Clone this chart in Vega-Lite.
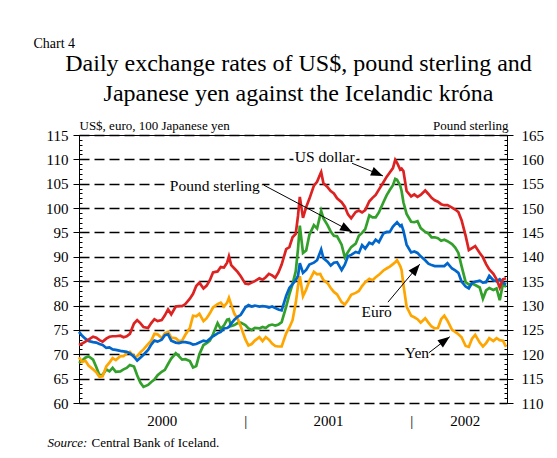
{
  "$schema": "https://vega.github.io/schema/vega-lite/v6.json",
  "width": 428,
  "height": 268,
  "autosize": {"type": "none"},
  "padding": {"left": 79, "top": 135, "right": 50, "bottom": 55},
  "background": "white",
  "config": {
    "font": "Liberation Serif",
    "view": {"stroke": null},
    "text": {"font": "Liberation Serif"},
    "axis": {"domainColor": "black", "tickColor": "black", "labelColor": "black", "titleColor": "black", "titleFontWeight": "normal", "labelFont": "Liberation Serif", "titleFont": "Liberation Serif", "grid": false, "labelFontSize": 15}
  },
  "datasets": {
    "rates": [
      {"d":"2000-01-01","usd":71.9,"gbp":118.2,"eur":74.6,"jpy":69.4},
      {"d":"2000-01-08","usd":72.2,"gbp":118.7,"eur":73.8,"jpy":68.4},
      {"d":"2000-01-15","usd":72.6,"gbp":119.3,"eur":73.2,"jpy":68.7},
      {"d":"2000-01-22","usd":73.0,"gbp":119.6,"eur":72.7,"jpy":67.7},
      {"d":"2000-02-01","usd":73.6,"gbp":118.9,"eur":72.5,"jpy":66.9},
      {"d":"2000-02-08","usd":73.4,"gbp":117.4,"eur":72.4,"jpy":66.3},
      {"d":"2000-02-15","usd":72.9,"gbp":115.7,"eur":72.1,"jpy":65.4},
      {"d":"2000-02-22","usd":72.6,"gbp":115.8,"eur":71.9,"jpy":65.5},
      {"d":"2000-03-01","usd":73.2,"gbp":116.9,"eur":71.3,"jpy":67.5},
      {"d":"2000-03-08","usd":73.6,"gbp":116.5,"eur":71.4,"jpy":68.3},
      {"d":"2000-03-15","usd":73.7,"gbp":117.2,"eur":71.0,"jpy":69.2},
      {"d":"2000-03-22","usd":73.7,"gbp":116.4,"eur":70.9,"jpy":68.8},
      {"d":"2000-04-01","usd":73.8,"gbp":116.5,"eur":70.7,"jpy":69.6},
      {"d":"2000-04-08","usd":73.5,"gbp":116.9,"eur":70.6,"jpy":69.6},
      {"d":"2000-04-15","usd":73.7,"gbp":117.2,"eur":70.5,"jpy":70.2},
      {"d":"2000-04-22","usd":74.2,"gbp":117.8,"eur":70.2,"jpy":70.5},
      {"d":"2000-05-01","usd":76.3,"gbp":117.5,"eur":69.5,"jpy":69.5},
      {"d":"2000-05-08","usd":77.0,"gbp":115.7,"eur":68.7,"jpy":69.6},
      {"d":"2000-05-15","usd":76.4,"gbp":114.2,"eur":69.3,"jpy":70.4},
      {"d":"2000-05-22","usd":75.6,"gbp":113.3,"eur":69.9,"jpy":71.0},
      {"d":"2000-06-01","usd":75.4,"gbp":113.7,"eur":70.9,"jpy":72.1},
      {"d":"2000-06-08","usd":76.4,"gbp":114.3,"eur":72.0,"jpy":72.8},
      {"d":"2000-06-15","usd":77.2,"gbp":114.8,"eur":72.8,"jpy":74.2},
      {"d":"2000-06-22","usd":76.8,"gbp":115.7,"eur":72.6,"jpy":74.1},
      {"d":"2000-07-01","usd":77.0,"gbp":116.4,"eur":73.0,"jpy":73.3},
      {"d":"2000-07-08","usd":78.0,"gbp":116.8,"eur":73.9,"jpy":74.3},
      {"d":"2000-07-15","usd":79.2,"gbp":118.0,"eur":74.1,"jpy":74.6},
      {"d":"2000-07-22","usd":78.2,"gbp":119.1,"eur":72.8,"jpy":73.4},
      {"d":"2000-08-01","usd":79.8,"gbp":120.2,"eur":72.4,"jpy":73.3},
      {"d":"2000-08-08","usd":79.9,"gbp":119.6,"eur":72.3,"jpy":72.7},
      {"d":"2000-08-15","usd":79.9,"gbp":118.9,"eur":72.5,"jpy":72.8},
      {"d":"2000-08-22","usd":80.3,"gbp":119.0,"eur":72.5,"jpy":74.0},
      {"d":"2000-09-01","usd":81.4,"gbp":118.6,"eur":72.3,"jpy":75.4},
      {"d":"2000-09-08","usd":82.4,"gbp":117.3,"eur":72.0,"jpy":77.9},
      {"d":"2000-09-15","usd":84.0,"gbp":117.6,"eur":72.1,"jpy":77.8},
      {"d":"2000-09-22","usd":84.7,"gbp":120.0,"eur":72.4,"jpy":78.3},
      {"d":"2000-10-01","usd":83.5,"gbp":121.9,"eur":72.8,"jpy":76.8},
      {"d":"2000-10-08","usd":84.1,"gbp":122.3,"eur":72.6,"jpy":77.4},
      {"d":"2000-10-15","usd":85.2,"gbp":122.8,"eur":73.2,"jpy":78.4},
      {"d":"2000-10-22","usd":86.8,"gbp":124.1,"eur":73.7,"jpy":79.6},
      {"d":"2000-11-01","usd":87.0,"gbp":126.4,"eur":74.3,"jpy":80.3},
      {"d":"2000-11-08","usd":87.9,"gbp":125.2,"eur":74.6,"jpy":80.6},
      {"d":"2000-11-15","usd":87.8,"gbp":125.9,"eur":75.3,"jpy":79.8},
      {"d":"2000-11-22","usd":88.8,"gbp":127.1,"eur":75.4,"jpy":80.6},
      {"d":"2000-11-26","usd":90.1,"gbp":127.2,"eur":75.6,"jpy":81.6},
      {"d":"2000-12-01","usd":88.3,"gbp":125.8,"eur":76.3,"jpy":80.2},
      {"d":"2000-12-08","usd":87.6,"gbp":126.0,"eur":77.1,"jpy":78.3},
      {"d":"2000-12-15","usd":86.9,"gbp":126.4,"eur":77.7,"jpy":77.3},
      {"d":"2000-12-22","usd":86.0,"gbp":126.5,"eur":78.1,"jpy":75.7},
      {"d":"2001-01-01","usd":84.5,"gbp":126.0,"eur":79.6,"jpy":73.1},
      {"d":"2001-01-08","usd":84.4,"gbp":125.3,"eur":80.1,"jpy":71.8},
      {"d":"2001-01-15","usd":84.7,"gbp":125.0,"eur":79.8,"jpy":72.1},
      {"d":"2001-01-22","usd":85.0,"gbp":125.4,"eur":80.0,"jpy":72.8},
      {"d":"2001-02-01","usd":85.6,"gbp":125.3,"eur":79.8,"jpy":73.5},
      {"d":"2001-02-08","usd":85.3,"gbp":125.6,"eur":79.9,"jpy":72.7},
      {"d":"2001-02-15","usd":85.8,"gbp":125.4,"eur":79.8,"jpy":73.5},
      {"d":"2001-02-22","usd":86.5,"gbp":125.9,"eur":79.6,"jpy":73.0},
      {"d":"2001-03-01","usd":86.2,"gbp":126.1,"eur":79.8,"jpy":72.2},
      {"d":"2001-03-08","usd":85.7,"gbp":125.9,"eur":79.5,"jpy":71.7},
      {"d":"2001-03-15","usd":86.8,"gbp":126.1,"eur":79.2,"jpy":71.6},
      {"d":"2001-03-22","usd":88.4,"gbp":126.6,"eur":79.0,"jpy":71.6},
      {"d":"2001-04-01","usd":91.6,"gbp":129.8,"eur":82.0,"jpy":74.3},
      {"d":"2001-04-08","usd":92.0,"gbp":132.3,"eur":83.6,"jpy":75.5},
      {"d":"2001-04-15","usd":94.0,"gbp":134.4,"eur":84.4,"jpy":77.0},
      {"d":"2001-04-22","usd":94.7,"gbp":137.0,"eur":85.2,"jpy":80.5},
      {"d":"2001-04-27","usd":98.4,"gbp":141.6,"eur":86.1,"jpy":84.0},
      {"d":"2001-05-01","usd":102.3,"gbp":146.4,"eur":88.7,"jpy":86.0},
      {"d":"2001-05-08","usd":98.0,"gbp":140.8,"eur":86.7,"jpy":81.9},
      {"d":"2001-05-15","usd":100.2,"gbp":141.3,"eur":87.3,"jpy":83.3},
      {"d":"2001-05-22","usd":101.9,"gbp":144.5,"eur":88.4,"jpy":85.1},
      {"d":"2001-06-01","usd":104.6,"gbp":146.5,"eur":88.8,"jpy":86.9},
      {"d":"2001-06-08","usd":105.4,"gbp":145.8,"eur":89.3,"jpy":86.4},
      {"d":"2001-06-15","usd":107.0,"gbp":148.6,"eur":91.0,"jpy":86.5},
      {"d":"2001-06-17","usd":107.4,"gbp":149.4,"eur":91.5,"jpy":86.1},
      {"d":"2001-06-22","usd":105.1,"gbp":147.9,"eur":89.7,"jpy":85.2},
      {"d":"2001-07-01","usd":104.3,"gbp":146.5,"eur":89.0,"jpy":84.6},
      {"d":"2001-07-08","usd":103.5,"gbp":145.2,"eur":88.2,"jpy":83.6},
      {"d":"2001-07-15","usd":103.0,"gbp":144.3,"eur":88.8,"jpy":82.8},
      {"d":"2001-07-22","usd":102.0,"gbp":144.2,"eur":88.9,"jpy":82.3},
      {"d":"2001-08-01","usd":101.2,"gbp":142.5,"eur":87.3,"jpy":80.7},
      {"d":"2001-08-08","usd":100.3,"gbp":139.9,"eur":88.4,"jpy":80.2},
      {"d":"2001-08-15","usd":98.7,"gbp":141.0,"eur":90.1,"jpy":81.1},
      {"d":"2001-08-22","usd":97.9,"gbp":142.0,"eur":90.4,"jpy":82.2},
      {"d":"2001-09-01","usd":99.2,"gbp":142.7,"eur":91.0,"jpy":82.6},
      {"d":"2001-09-08","usd":99.5,"gbp":144.3,"eur":90.8,"jpy":83.0},
      {"d":"2001-09-15","usd":99.1,"gbp":144.9,"eur":92.4,"jpy":84.0},
      {"d":"2001-09-22","usd":99.6,"gbp":145.7,"eur":91.7,"jpy":84.8},
      {"d":"2001-10-01","usd":101.4,"gbp":148.5,"eur":92.9,"jpy":85.5},
      {"d":"2001-10-08","usd":102.1,"gbp":148.1,"eur":92.6,"jpy":85.2},
      {"d":"2001-10-15","usd":102.7,"gbp":148.1,"eur":93.5,"jpy":85.8},
      {"d":"2001-10-22","usd":103.8,"gbp":149.1,"eur":93.0,"jpy":86.3},
      {"d":"2001-11-01","usd":105.3,"gbp":151.2,"eur":94.8,"jpy":87.2},
      {"d":"2001-11-08","usd":106.4,"gbp":152.6,"eur":95.1,"jpy":87.6},
      {"d":"2001-11-15","usd":107.3,"gbp":153.7,"eur":95.1,"jpy":88.0},
      {"d":"2001-11-22","usd":108.2,"gbp":154.7,"eur":96.2,"jpy":88.5},
      {"d":"2001-11-27","usd":109.9,"gbp":156.0,"eur":96.7,"jpy":88.9},
      {"d":"2001-12-01","usd":109.3,"gbp":155.8,"eur":97.1,"jpy":89.3},
      {"d":"2001-12-08","usd":107.9,"gbp":154.6,"eur":96.3,"jpy":88.1},
      {"d":"2001-12-11","usd":108.1,"gbp":153.5,"eur":96.5,"jpy":87.3},
      {"d":"2001-12-15","usd":107.6,"gbp":151.2,"eur":95.4,"jpy":84.3},
      {"d":"2001-12-22","usd":103.5,"gbp":148.8,"eur":92.5,"jpy":79.8},
      {"d":"2002-01-01","usd":102.4,"gbp":147.2,"eur":90.9,"jpy":77.9},
      {"d":"2002-01-08","usd":102.8,"gbp":147.1,"eur":91.1,"jpy":77.6},
      {"d":"2002-01-15","usd":102.3,"gbp":147.3,"eur":90.8,"jpy":77.2},
      {"d":"2002-01-22","usd":102.7,"gbp":145.9,"eur":90.1,"jpy":76.5},
      {"d":"2002-02-01","usd":103.6,"gbp":145.1,"eur":89.3,"jpy":77.4},
      {"d":"2002-02-08","usd":102.9,"gbp":144.8,"eur":88.6,"jpy":76.5},
      {"d":"2002-02-15","usd":102.1,"gbp":144.0,"eur":88.3,"jpy":75.7},
      {"d":"2002-02-22","usd":101.6,"gbp":144.0,"eur":88.1,"jpy":75.3},
      {"d":"2002-03-01","usd":101.3,"gbp":143.8,"eur":88.1,"jpy":75.4},
      {"d":"2002-03-08","usd":100.8,"gbp":143.3,"eur":88.1,"jpy":77.2},
      {"d":"2002-03-15","usd":100.6,"gbp":143.5,"eur":88.1,"jpy":77.9},
      {"d":"2002-03-22","usd":100.6,"gbp":143.2,"eur":88.7,"jpy":76.9},
      {"d":"2002-04-01","usd":100.1,"gbp":142.6,"eur":87.6,"jpy":75.0},
      {"d":"2002-04-08","usd":99.7,"gbp":141.9,"eur":87.2,"jpy":74.6},
      {"d":"2002-04-15","usd":99.2,"gbp":140.8,"eur":86.7,"jpy":74.1},
      {"d":"2002-04-22","usd":97.5,"gbp":138.1,"eur":84.9,"jpy":73.5},
      {"d":"2002-05-01","usd":94.3,"gbp":134.8,"eur":83.9,"jpy":71.7},
      {"d":"2002-05-08","usd":91.4,"gbp":134.3,"eur":83.5,"jpy":71.5},
      {"d":"2002-05-15","usd":91.8,"gbp":134.5,"eur":84.6,"jpy":73.2},
      {"d":"2002-05-22","usd":92.2,"gbp":134.2,"eur":84.9,"jpy":74.0},
      {"d":"2002-06-01","usd":90.8,"gbp":133.7,"eur":85.1,"jpy":72.4},
      {"d":"2002-06-08","usd":89.9,"gbp":131.4,"eur":84.7,"jpy":71.6},
      {"d":"2002-06-15","usd":88.5,"gbp":133.1,"eur":84.8,"jpy":72.3},
      {"d":"2002-06-22","usd":87.4,"gbp":133.6,"eur":86.1,"jpy":73.3},
      {"d":"2002-07-01","usd":86.5,"gbp":133.2,"eur":85.2,"jpy":72.7},
      {"d":"2002-07-08","usd":85.4,"gbp":133.5,"eur":85.0,"jpy":73.3},
      {"d":"2002-07-15","usd":83.7,"gbp":131.1,"eur":85.4,"jpy":72.9},
      {"d":"2002-07-22","usd":85.4,"gbp":134.4,"eur":84.7,"jpy":72.8},
      {"d":"2002-07-29","usd":85.6,"gbp":133.8,"eur":84.3,"jpy":71.5}
    ],
    "notes": [
      {"label":"US dollar","d":"2001-04-20","v":109.5},
      {"label":"Pound sterling","d":"2000-07-19","v":103.6},
      {"label":"Euro","d":"2001-09-14","v":77.7},
      {"label":"Yen","d":"2001-12-18","v":69.2}
    ],
    "arrows": [
      {"name":"usd","d1":"2001-08-24","v1":109.2,"d2":"2001-10-31","v2":106.6},
      {"name":"gbp","d1":"2001-02-11","v1":104.7,"d2":"2001-08-24","v2":95.1},
      {"name":"eur","d1":"2001-11-11","v1":80.7,"d2":"2002-01-20","v2":88.5},
      {"name":"jpy","d1":"2002-02-09","v1":70.3,"d2":"2002-03-27","v2":73.6}
    ]
  },
  "data": {"name": "rates"},
  "resolve": {"scale": {"y": "independent"}, "axis": {"x": "independent", "y": "independent"}},
  "layer": [
    {
      "mark": {"type": "line", "color": "#33a02c", "strokeWidth": 2.7},
      "encoding": {
        "x": {"field": "d", "type": "temporal",
          "scale": {"domain": [{"year": 2000, "month": 1, "date": 1, "utc": true}, {"year": 2002, "month": 7, "date": 31, "utc": true}], "nice": false},
          "axis": {"orient": "top", "domain": true, "domainWidth": 1, "ticks": false, "labels": false, "grid": false,
            "title": ["Daily exchange rates of US$, pound sterling and", "Japanese yen against the Icelandic króna"],
            "titleFont": "Liberation Serif", "titleFontSize": 24, "titleLineHeight": 30, "titleAngle": 0, "titleAlign": "center", "titleBaseline": "alphabetic", "titleX": 219, "titleY": -65}},
        "y": {"field": "gbp", "type": "quantitative", "scale": {"domain": [110, 165], "nice": false, "zero": false},
          "axis": {"orient": "right", "values": [110,115,120,125,130,135,140,145,150,155,160,165], "tickSize": 6, "labelPadding": 8, "labelFont": "Liberation Serif", "labelFontSize": 15, "labelFlush": false, "labelOverlap": false, "labelBaseline": "middle", "domain": true, "grid": false,
            "title": "Pound sterling", "titleFont": "Liberation Serif", "titleFontSize": 13, "titleAngle": 0, "titleAlign": "right", "titleBaseline": "alphabetic", "titleX": 1, "titleY": -6}}
      }
    },
    {
      "mark": {"type": "line", "color": "#ffa500", "strokeWidth": 2.7},
      "encoding": {
        "x": {"field": "d", "type": "temporal",
          "scale": {"domain": [{"year": 2000, "month": 1, "date": 1, "utc": true}, {"year": 2002, "month": 7, "date": 31, "utc": true}], "nice": false},
          "axis": {"orient": "bottom", "values": [{"year": 2000, "month": 7, "date": 1, "utc": true}, {"year": 2001, "month": 1, "date": 1, "utc": true}, {"year": 2001, "month": 7, "date": 2, "utc": true}, {"year": 2002, "month": 1, "date": 1, "utc": true}, {"year": 2002, "month": 4, "date": 29, "utc": true}],
            "labelExpr": "utcFormat(datum.value, '%m-%d') == '01-01' ? '|' : utcFormat(datum.value, '%Y')",
            "ticks": false, "tickSize": 0, "domain": false, "grid": false, "labelPadding": 22, "labelBaseline": "alphabetic", "labelFont": "Liberation Serif", "labelFontSize": 15, "labelFlush": false, "labelOverlap": false, "title": null}},
        "y": {"field": "jpy", "type": "quantitative", "scale": {"domain": [60, 115], "nice": false, "zero": false},
          "axis": {"orient": "left", "values": [60,65,70,75,80,85,90,95,100,105,110,115], "tickSize": 6, "labelPadding": 5, "labelFont": "Liberation Serif", "labelFontSize": 15, "labelFlush": false, "labelOverlap": false, "labelBaseline": "middle", "domain": true,
            "grid": true, "gridDash": [10, 5], "gridColor": "black", "gridWidth": 1.5, "gridOpacity": 1,
            "title": "US$, euro, 100 Japanese yen", "titleFont": "Liberation Serif", "titleFontSize": 13, "titleAngle": 0, "titleAlign": "left", "titleBaseline": "alphabetic", "titleX": 0, "titleY": -6}}
      }
    },
    {
      "mark": {"type": "line", "color": "#0066cc", "strokeWidth": 2.7},
      "encoding": {
        "x": {"field": "d", "type": "temporal",
          "scale": {"domain": [{"year": 2000, "month": 1, "date": 1, "utc": true}, {"year": 2002, "month": 7, "date": 31, "utc": true}], "nice": false},
          "axis": {"orient": "bottom", "labels": false, "ticks": false, "domain": false, "grid": false,
            "title": "Source:", "titleFont": "Liberation Serif", "titleFontStyle": "italic", "titleFontSize": 13, "titleAngle": 0, "titleAlign": "left", "titleBaseline": "alphabetic", "titleX": -32, "titleY": 43}},
        "y": {"field": "eur", "type": "quantitative", "scale": {"domain": [60, 115], "nice": false, "zero": false},
          "axis": {"orient": "left", "tickCount": 55, "labels": false, "domain": false, "grid": false, "tickSize": -3,
            "title": "Chart 4", "titleFont": "Liberation Serif", "titleFontSize": 14, "titleAngle": 0, "titleAlign": "left", "titleBaseline": "alphabetic", "titleX": -46, "titleY": -88}}
      }
    },
    {
      "mark": {"type": "line", "color": "#dd2222", "strokeWidth": 2.7},
      "encoding": {
        "x": {"field": "d", "type": "temporal",
          "scale": {"domain": [{"year": 2000, "month": 1, "date": 1, "utc": true}, {"year": 2002, "month": 7, "date": 31, "utc": true}], "nice": false},
          "axis": {"orient": "bottom", "labels": false, "ticks": false, "domain": false, "grid": false,
            "title": "Central Bank of Iceland.", "titleFont": "Liberation Serif", "titleFontSize": 13, "titleAngle": 0, "titleAlign": "left", "titleBaseline": "alphabetic", "titleX": 12, "titleY": 43}},
        "y": {"field": "usd", "type": "quantitative", "scale": {"domain": [60, 115], "nice": false, "zero": false},
          "axis": {"orient": "right", "tickCount": 55, "labels": false, "domain": false, "grid": false, "tickSize": -3, "title": null}}
      }
    },
    {
      "data": {"name": "notes"},
      "mark": {"type": "text", "align": "left", "baseline": "alphabetic", "font": "Liberation Serif", "fontSize": 15.5, "color": "white", "stroke": "white", "strokeWidth": 6, "strokeJoin": "round"},
      "encoding": {
        "x": {"field": "d", "type": "temporal", "axis": null},
        "y": {"field": "v", "type": "quantitative", "scale": {"domain": [60, 115], "nice": false, "zero": false}, "axis": null},
        "text": {"field": "label"}
      }
    },
    {
      "data": {"name": "arrows"},
      "mark": {"type": "rule", "color": "black", "strokeWidth": 1},
      "encoding": {
        "x": {"field": "d1", "type": "temporal", "axis": null},
        "y": {"field": "v1", "type": "quantitative", "scale": {"domain": [60, 115], "nice": false, "zero": false}, "axis": null},
        "x2": {"field": "d2"},
        "y2": {"field": "v2"}
      }
    },
    {
      "data": {"name": "notes"},
      "mark": {"type": "text", "align": "left", "baseline": "alphabetic", "font": "Liberation Serif", "fontSize": 15.5, "color": "black"},
      "encoding": {
        "x": {"field": "d", "type": "temporal", "axis": null},
        "y": {"field": "v", "type": "quantitative", "scale": {"domain": [60, 115], "nice": false, "zero": false}, "axis": null},
        "text": {"field": "label"}
      }
    },
    {
      "data": {"name": "arrows"},
      "transform": [{"filter": "datum.name == 'usd'"}],
      "mark": {"type": "point", "shape": "M0,0L-1,-0.38L-1,0.38Z", "size": 576, "filled": true, "color": "black", "opacity": 1, "angle": 23},
      "encoding": {
        "x": {"field": "d2", "type": "temporal", "axis": null},
        "y": {"field": "v2", "type": "quantitative", "scale": {"domain": [60, 115], "nice": false, "zero": false}, "axis": null}
      }
    },
    {
      "data": {"name": "arrows"},
      "transform": [{"filter": "datum.name == 'gbp'"}],
      "mark": {"type": "point", "shape": "M0,0L-1,-0.38L-1,0.38Z", "size": 576, "filled": true, "color": "black", "opacity": 1, "angle": 28},
      "encoding": {
        "x": {"field": "d2", "type": "temporal", "axis": null},
        "y": {"field": "v2", "type": "quantitative", "scale": {"domain": [60, 115], "nice": false, "zero": false}, "axis": null}
      }
    },
    {
      "data": {"name": "arrows"},
      "transform": [{"filter": "datum.name == 'eur'"}],
      "mark": {"type": "point", "shape": "M0,0L-1,-0.38L-1,0.38Z", "size": 576, "filled": true, "color": "black", "opacity": 1, "angle": -50},
      "encoding": {
        "x": {"field": "d2", "type": "temporal", "axis": null},
        "y": {"field": "v2", "type": "quantitative", "scale": {"domain": [60, 115], "nice": false, "zero": false}, "axis": null}
      }
    },
    {
      "data": {"name": "arrows"},
      "transform": [{"filter": "datum.name == 'jpy'"}],
      "mark": {"type": "point", "shape": "M0,0L-1,-0.38L-1,0.38Z", "size": 576, "filled": true, "color": "black", "opacity": 1, "angle": -37},
      "encoding": {
        "x": {"field": "d2", "type": "temporal", "axis": null},
        "y": {"field": "v2", "type": "quantitative", "scale": {"domain": [60, 115], "nice": false, "zero": false}, "axis": null}
      }
    }
  ]
}
